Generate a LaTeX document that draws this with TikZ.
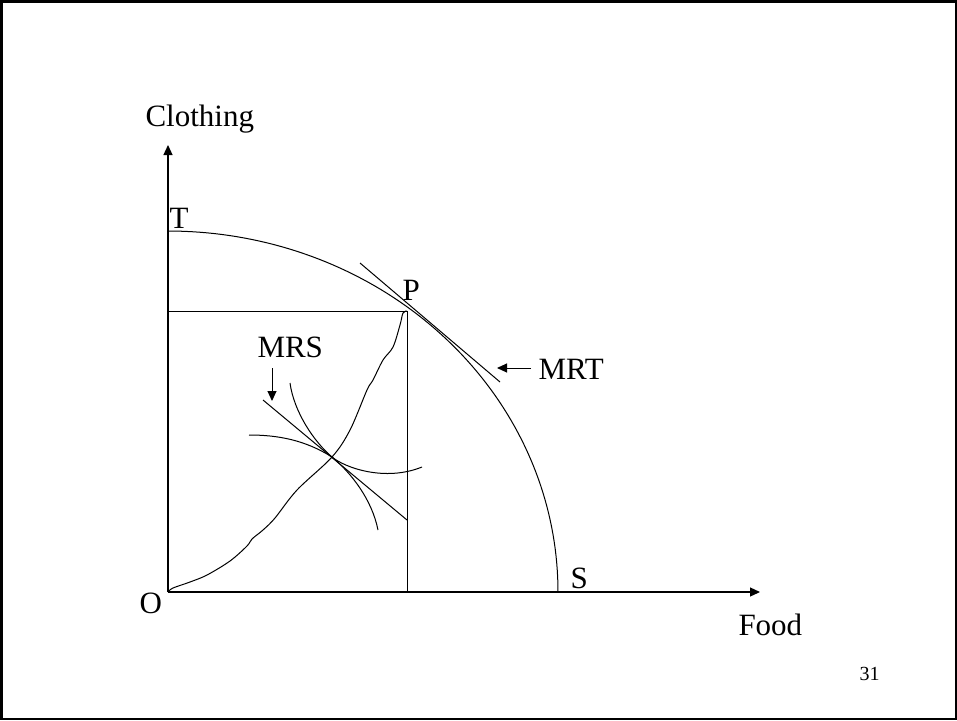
\documentclass[tikz,border=0pt]{standalone}
\usepackage{fontspec}
\setmainfont{Liberation Serif}
\usetikzlibrary{arrows.meta}
\begin{document}
\begin{tikzpicture}[x=1pt,y=-1pt,line width=1pt,
  lbl/.style={font=\fontsize{31}{31}\selectfont, anchor=base west, inner sep=0pt},
  arr/.style={-{Triangle[length=10pt,width=9pt]}}]
\useasboundingbox (0,0) rectangle (957,720);
\draw[line width=2.5pt] (1.25,1.25) rectangle (955.75,718.75);
% coordinates
\coordinate (O) at (168,592);
\coordinate (Ytip) at (168,145);
\coordinate (Xtip) at (760,592);
\coordinate (P) at (407,311);
\coordinate (Py) at (168,311);
\coordinate (Px) at (407,592);
\coordinate (E) at (332,457);
\coordinate (mrt1) at (360,263);
\coordinate (mrt2) at (500,382);
\coordinate (mrtA) at (531,368);
\coordinate (mrtB) at (497,368);
\coordinate (mrsA) at (272,368);
\coordinate (mrsB) at (272,401);
\coordinate (mrs1) at (263,400);
\coordinate (mrs2) at (407,520);
% axes
\draw[arr,line width=1.2pt] (O) -- (Ytip);
\draw[arr,line width=1.2pt] (O) -- (Xtip);
% box
\draw (Py) -- (P) -- (Px);
% frontier
\draw plot[domain=0:90,samples=80] ({168+390*cos(\x)},{592-361*sin(\x)});
% MRT tangent and arrow
\draw (mrt1) -- (mrt2);
\draw[arr] (mrtA) -- (mrtB);
% MRS tangent and arrow
\draw (mrs1) -- (mrs2);
\draw[arr] (mrsA) -- (mrsB);
% indifference curves
\draw (290,383) .. controls (294,412) and (314,441.7) .. (E)
      .. controls (352,473.7) and (372,500) .. (378,530);
\draw (249,435) .. controls (278,435) and (305,440) .. (E)
      .. controls (345,467.8) and (385,482) .. (422,467);
% contract curve
\draw plot[smooth,tension=0.55] coordinates {(O) (173,588) (190,582) (207,575)
  (230,561) (247,546) (252,539) (263,530) (275,518) (297,490) (E) (350,430)
  (367,390) (373,380) (383,360) (393,347) (400,325) (403,313) (P)};
% labels
\node[lbl] (clothing) at (145,126) {Clothing};
\node[lbl] (tl) at (169,228) {T};
\node[lbl] (pl) at (402,300) {P};
\node[lbl] (mrsl) at (257,357) {MRS};
\node[lbl] (mrtl) at (538,379) {MRT};
\node[lbl] (sl) at (570,588) {S};
\node[lbl] (ol) at (139,613) {O};
\node[lbl] (food) at (738,635) {Food};
\node[anchor=base west,inner sep=0pt,font=\fontsize{20}{20}\selectfont] (num) at (859,680) {31};
\end{tikzpicture}
\end{document}
